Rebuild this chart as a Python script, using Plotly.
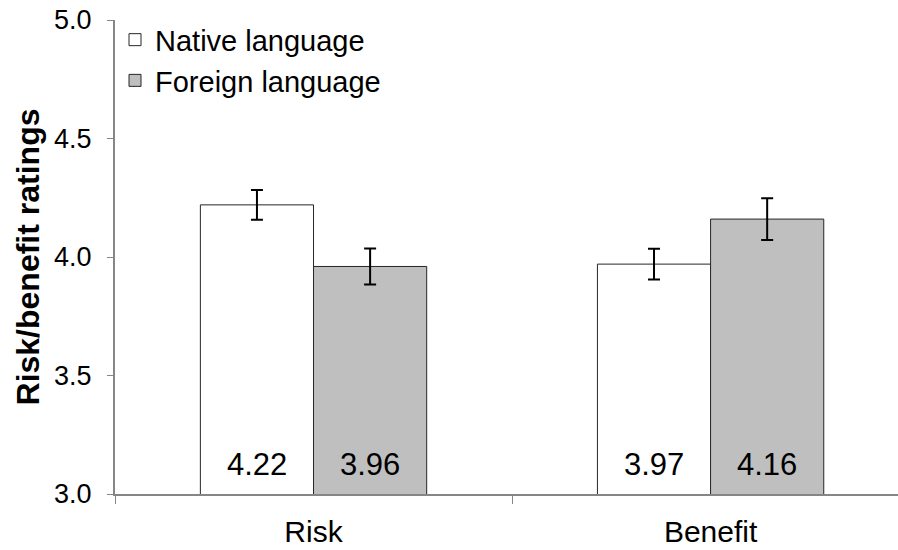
import plotly.graph_objects as go

categories = ["Risk", "Benefit"]
native_values = [4.22, 3.97]
foreign_values = [3.96, 4.16]
native_err = [0.063, 0.065]
foreign_err = [0.076, 0.088]
series_names = ["Native language", "Foreign language"]
y_ticks = [3.0, 3.5, 4.0, 4.5, 5.0]

FONT = "Liberation Sans, Arial, sans-serif"

fig = go.Figure()
fig.add_trace(go.Bar(
    x=categories, y=native_values, name=series_names[0],
    marker=dict(color="white", line=dict(color="#262626", width=1)),
    error_y=dict(type="data", array=native_err, color="black", thickness=2, width=6),
))
fig.add_trace(go.Bar(
    x=categories, y=foreign_values, name=series_names[1],
    marker=dict(color="#BFBFBF", line=dict(color="#262626", width=1)),
    error_y=dict(type="data", array=foreign_err, color="black", thickness=2, width=6),
))

# value labels at bottom of bars
for vals, shift in [(native_values, -56.5), (foreign_values, 56.5)]:
    for c, v in zip(categories, vals):
        fig.add_annotation(x=c, y=3.0, xref="x", yref="y", text=f"{v:.2f}",
                           showarrow=False, xshift=shift, yanchor="bottom", yshift=10,
                           font=dict(family=FONT, size=31, color="black"))

fig.add_annotation(text="<b>Risk/benefit ratings</b>", xref="paper", yref="paper",
                   x=-0.1105, y=0.5, xanchor="center", yanchor="middle", textangle=-90,
                   showarrow=False, font=dict(family=FONT, size=32, color="black"))

fig.update_layout(
    width=898, height=550,
    margin=dict(l=115, r=0, t=20, b=56),
    plot_bgcolor="white", paper_bgcolor="white",
    barmode="group", bargap=0.43, bargroupgap=0,
    font=dict(family=FONT, color="black"),
    showlegend=True,
    legend=dict(x=0.0, y=1.012, xanchor="left", yanchor="top",
                font=dict(family=FONT, size=29, color="black"),
                bgcolor="rgba(0,0,0,0)", itemwidth=30, tracegroupgap=0),
    xaxis=dict(range=[-0.5, 1.472], showline=True, linecolor="#868686", linewidth=2,
               ticks="outside", tickson="boundaries", ticklen=8, tickcolor="#868686",
               tickwidth=1, tickfont=dict(family=FONT, size=30, color="black"),
               ticklabelstandoff=10,
               showgrid=False, zeroline=False),
    yaxis=dict(range=[3.0, 5.0], tickvals=y_ticks, ticktext=[f"{t:.1f}" for t in y_ticks],
               showline=True, linecolor="#868686", linewidth=2,
               ticks="outside", ticklen=6, tickcolor="#868686", tickwidth=1,
               tickfont=dict(family=FONT, size=27, color="black"),
               ticklabelstandoff=10,
               showgrid=False, zeroline=False),
)

fig.write_html("out.html", config={"displayModeBar": False},
               post_script="document.body.style.margin='0';")
